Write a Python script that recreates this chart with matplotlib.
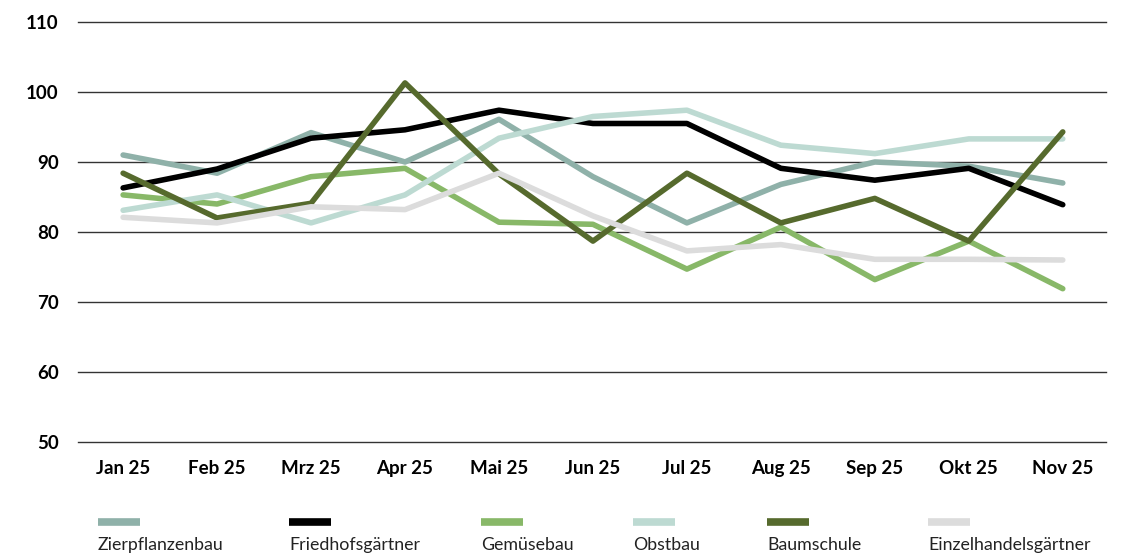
import matplotlib.pyplot as plt
from matplotlib.lines import Line2D

months = ["Jan 25", "Feb 25", "Mrz 25", "Apr 25", "Mai 25", "Jun 25",
          "Jul 25", "Aug 25", "Sep 25", "Okt 25", "Nov 25"]

zierpflanzenbau = [91.0, 88.4, 94.2, 90.0, 96.1, 87.9, 81.3, 86.8, 90.0, 89.4, 87.0]
friedhofsgaertner = [86.3, 89.0, 93.4, 94.6, 97.4, 95.5, 95.5, 89.1, 87.4, 89.1, 83.9]
gemuesebau = [85.3, 84.0, 87.9, 89.1, 81.4, 81.1, 74.7, 80.7, 73.2, 78.7, 71.9]
obstbau = [83.1, 85.3, 81.3, 85.3, 93.4, 96.5, 97.4, 92.4, 91.2, 93.3, 93.3]
baumschule = [88.4, 82.0, 84.1, 101.3, 88.3, 78.7, 88.4, 81.3, 84.8, 78.7, 94.3]
einzelhandel = [82.1, 81.3, 83.6, 83.2, 88.4, 82.3, 77.3, 78.2, 76.1, 76.1, 76.0]

series = [
    ("Zierpflanzenbau", zierpflanzenbau, "#8fb1a9"),
    ("Friedhofsgärtner", friedhofsgaertner, "#000000"),
    ("Gemüsebau", gemuesebau, "#88b868"),
    ("Obstbau", obstbau, "#bddad2"),
    ("Baumschule", baumschule, "#566a2d"),
    ("Einzelhandelsgärtner", einzelhandel, "#dcdcdc"),
]

plt.rcParams["font.family"] = ["Lato", "DejaVu Sans"]

fig = plt.figure(figsize=(11.22, 5.56), dpi=100)
ax = fig.add_axes([78 / 1122, 1 - 442 / 556, (1106 - 78) / 1122, (442 - 22) / 556])

x = range(len(months))
for name, vals, col in series:
    ax.plot(x, vals, color=col, lw=4.0, solid_capstyle="round",
            solid_joinstyle="round", zorder=3)

ax.set_ylim(50, 110)
ax.set_yticks(range(50, 111, 10))
ax.set_xlim(-0.48, len(months) - 0.54)
ax.set_xticks(list(x))
ax.set_xticklabels(months)
ax.grid(axis="y", color="#333333", lw=1.0, zorder=1)
for gl in ax.get_ygridlines():
    gl.set_clip_on(False)
ax.set_axisbelow(True)
for s in ax.spines.values():
    s.set_visible(False)
ax.tick_params(length=0, labelsize=13.5)
ax.tick_params(axis="y", pad=14)
ax.tick_params(axis="x", pad=13)
for lab in ax.get_xticklabels() + ax.get_yticklabels():
    lab.set_fontweight("bold")

# legend: short bar above each label
leg_x = [98, 289, 481, 633, 767, 928]
for (name, vals, col), lx in zip(series, leg_x):
    fig.add_artist(Line2D([lx / 1122, (lx + 42) / 1122], [1 - 522 / 556] * 2,
                          color=col, lw=5.5, solid_capstyle="butt"))
    fig.text(lx / 1122, 1 - 545 / 556, name, fontsize=12.8, va="center",
             ha="left", color="#222222")

fig.savefig("out.png", dpi=100)
